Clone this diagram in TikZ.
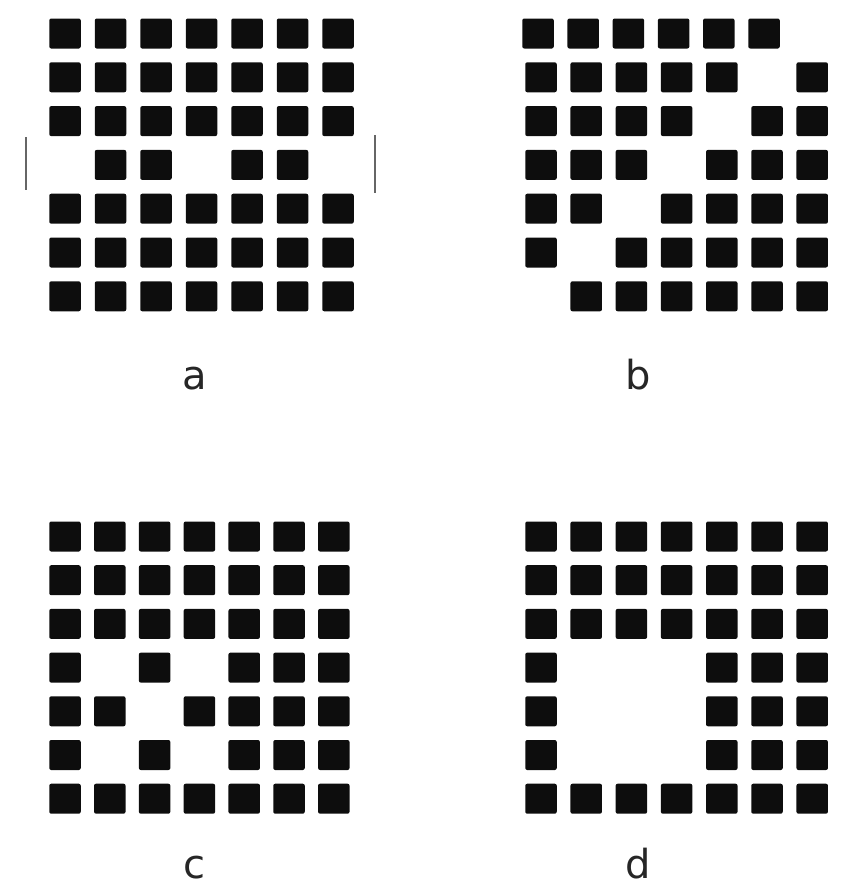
\documentclass[tikz,border=0pt]{standalone}
\usepackage{fontspec}
\setmainfont{DejaVu Sans}
\begin{document}
\begin{tikzpicture}[x=1pt,y=-1pt,
  cell/.style={fill=black!95,draw=none,minimum width=31.5pt,minimum height=30pt,inner sep=0pt,rounded corners=2pt},
  lbl/.style={anchor=base,inner sep=0pt,font=\fontsize{40}{40}\selectfont,text=black!85},
  tick/.style={draw=black!60,line width=1.5pt}]
\useasboundingbox (0,0) rectangle (845,889);
% grid a
\foreach \r/\cols in {0/{0,1,2,3,4,5,6},1/{0,1,2,3,4,5,6},2/{0,1,2,3,4,5,6},3/{1,2,4,5},4/{0,1,2,3,4,5,6},5/{0,1,2,3,4,5,6},6/{0,1,2,3,4,5,6}}{
  \foreach \c in \cols {
    \node[cell] (a-\r-\c) at ({65+45.5*\c},{33.5+43.8*\r}) {};
  }
}
\coordinate (al1) at (26,137); \coordinate (al2) at (26,190);
\coordinate (ar1) at (375,135); \coordinate (ar2) at (375,193);
\draw[tick] (al1) -- (al2);
\draw[tick] (ar1) -- (ar2);
% grid b (top row sits slightly to the left)
\foreach \r/\cols in {0/{0,1,2,3,4,5},1/{0,1,2,3,4,6},2/{0,1,2,3,5,6},3/{0,1,2,4,5,6},4/{0,1,3,4,5,6},5/{0,2,3,4,5,6},6/{1,2,3,4,5,6}}{
  \foreach \c in \cols {
    \pgfmathsetmacro{\dx}{\r==0 ? -3 : 0}
    \node[cell] (b-\r-\c) at ({541+45.2*\c+\dx},{33.5+43.8*\r}) {};
  }
}
% grid c
\foreach \r/\cols in {0/{0,1,2,3,4,5,6},1/{0,1,2,3,4,5,6},2/{0,1,2,3,4,5,6},3/{0,2,4,5,6},4/{0,1,3,4,5,6},5/{0,2,4,5,6},6/{0,1,2,3,4,5,6}}{
  \foreach \c in \cols {
    \node[cell] (c-\r-\c) at ({65+44.8*\c},{536.5+43.7*\r}) {};
  }
}
% grid d
\foreach \r/\cols in {0/{0,1,2,3,4,5,6},1/{0,1,2,3,4,5,6},2/{0,1,2,3,4,5,6},3/{0,4,5,6},4/{0,4,5,6},5/{0,4,5,6},6/{0,1,2,3,4,5,6}}{
  \foreach \c in \cols {
    \node[cell] (d-\r-\c) at ({541+45.2*\c},{536.5+43.7*\r}) {};
  }
}
% labels
\node[lbl] (la) at (195,389) {a};
\node[lbl] (lb) at (638,389) {b};
\node[lbl] (lc) at (194,878) {c};
\node[lbl] (ld) at (638,878) {d};
\end{tikzpicture}
\end{document}
